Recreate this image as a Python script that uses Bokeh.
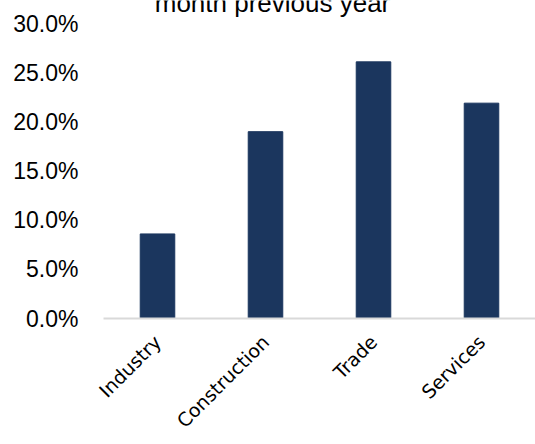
from bokeh.plotting import figure
from bokeh.models import ColumnDataSource, FactorRange, Range1d, FixedTicker, NumeralTickFormatter
from bokeh.core.properties import value
from bokeh.embed import file_html
from bokeh.resources import INLINE
import math

categories = ["Industry", "Construction", "Trade", "Services"]
values = [0.086, 0.190, 0.261, 0.219]
y_ticks = [0.0, 0.05, 0.10, 0.15, 0.20, 0.25, 0.30]
title_text = "month previous year"

FONT = "Liberation Sans"
XFONT = "DejaVu Sans"

p = figure(width=535, height=444, output_backend="svg", toolbar_location=None,
           x_range=FactorRange(factors=categories, range_padding=0),
           y_range=Range1d(0, 0.3234),
           min_border_top=0, min_border_left=103, min_border_right=0, min_border_bottom=126)
p.outline_line_color = None
p.background_fill_color = "white"
p.border_fill_color = "white"

src = ColumnDataSource(dict(cat=categories, val=values))
p.vbar(x="cat", top="val", width=0.32, source=src, color="#1b365e")

p.text(x=["Construction"], y=[0.30], text=[title_text], x_offset=7, y_offset=-21,
       text_align="center", text_baseline="alphabetic", text_font=value(FONT),
       text_font_size="26px", text_color="#000000")

p.xgrid.visible = False
p.ygrid.visible = False

p.yaxis.ticker = FixedTicker(ticks=y_ticks)
p.yaxis.formatter = NumeralTickFormatter(format="0.0%")
p.yaxis.axis_line_color = None
p.yaxis.major_tick_line_color = None
p.yaxis.minor_tick_line_color = None
p.yaxis.major_tick_in = 0
p.yaxis.major_tick_out = 0
p.yaxis.major_label_standoff = 25
p.yaxis.major_label_text_font = FONT
p.yaxis.major_label_text_font_size = "23px"
p.yaxis.major_label_text_color = "#000000"

p.xaxis.axis_line_color = "#d9d9d9"
p.xaxis.axis_line_width = 2
p.xaxis.major_tick_line_color = None
p.xaxis.minor_tick_line_color = None
p.xaxis.major_tick_in = 0
p.xaxis.major_tick_out = 0
p.xaxis.major_label_orientation = math.pi / 4
p.xaxis.major_label_standoff = 20
p.xaxis.major_label_text_font = XFONT
p.xaxis.major_label_text_font_size = "19px"
p.xaxis.major_label_text_color = "#000000"

open("out.html", "w").write(file_html(p, INLINE))
